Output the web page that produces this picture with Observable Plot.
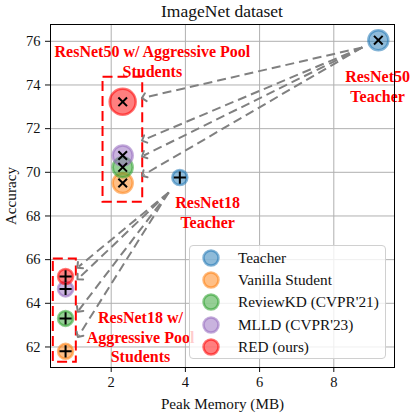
<!DOCTYPE html>
<html><head><meta charset="utf-8">
<script src="https://cdn.jsdelivr.net/npm/d3@7"></script>
<script src="https://cdn.jsdelivr.net/npm/@observablehq/plot@0.6"></script>
<style>
body{margin:0;background:#fff;}
#wrap{position:relative;width:412px;height:415px;font-family:"Liberation Serif","Times New Roman",serif;}
#title{position:absolute;left:50px;width:344px;top:0px;text-align:center;font-size:17.5px;line-height:22px;color:#111;}
#legend{position:absolute;left:189px;top:245px;width:195px;height:112px;border:1px solid #d0d0d0;border-radius:4px;background:rgba(255,255,255,0.8);box-sizing:content-box;}
.row{position:absolute;left:0;height:22px;display:flex;align-items:center;font-size:15.3px;color:#111;white-space:nowrap;}
.row svg{margin-left:12px;margin-right:18px;}
</style></head><body><div id="wrap"><div id="chart"></div><div id="title">ImageNet dataset</div><div id="legend"></div></div>
<script>
// ---- data ----
const methods = ["Teacher", "Vanilla Student", "ReviewKD (CVPR'21)", "MLLD (CVPR'23)", "RED (ours)"];
const methodColors = ["#1f77b4", "#ff7f0e", "#2ca02c", "#9467bd", "#ff0000"];
const teacherNames = ["ResNet50", "ResNet18"];
const teacherMemory = [9.2, 3.85];
const teacherAccuracy = [76.05, 69.76];
const studentMethods = ["Vanilla Student", "ReviewKD (CVPR'21)", "MLLD (CVPR'23)", "RED (ours)"];
const r50StudentMemory = [2.31, 2.31, 2.31, 2.31];
const r50StudentAccuracy = [69.51, 70.23, 70.77, 73.23];
const r18StudentMemory = [0.77, 0.77, 0.77, 0.77];
const r18StudentAccuracy = [61.8, 63.31, 64.66, 65.23];
const xTicks = [2, 4, 6, 8];
const yTicks = [62, 64, 66, 68, 70, 72, 74, 76];
// arrows (teacher -> students), ends at dashed boxes
const r50ArrowStart = [8.77, 75.72];
const r50ArrowEndX = [2.88, 2.88, 2.88, 2.88];
const r50ArrowEndY = [73.42, 71.49, 70.77, 69.89];
const r18ArrowStart = [3.55, 69.08];
const r18ArrowEndX = [1.13, 1.13, 1.13, 1.13];
const r18ArrowEndY = [65.69, 65.16, 63.69, 62.53];
// dashed group boxes
const boxX1 = [1.78, 0.44];
const boxX2 = [2.85, 1.06];
const boxY1 = [68.63, 61.3];
const boxY2 = [74.35, 66.03];
// annotations
const noteText = ["ResNet50 w/ Aggressive Pool\nStudents", "ResNet50\nTeacher", "ResNet18\nTeacher", "ResNet18 w/\nAggressive Pool\nStudents"];
const noteX = [3.11, 9.18, 4.6, 2.79];
const noteY = [75.11, 73.96, 68.19, 62.49];

// ---- derived tables ----
const colorOf = m => methodColors[methods.indexOf(m)];
const teachers = teacherNames.map((n, i) => ({name: n, x: teacherMemory[i], y: teacherAccuracy[i]}));
const r50 = studentMethods.map((m, i) => ({method: m, x: r50StudentMemory[i], y: r50StudentAccuracy[i]}));
const r18 = studentMethods.map((m, i) => ({method: m, x: r18StudentMemory[i], y: r18StudentAccuracy[i]}));
const arrows = [
  ...r50ArrowEndY.map((y, i) => ({x1: r50ArrowStart[0], y1: r50ArrowStart[1], x2: r50ArrowEndX[i], y2: y})),
  ...r18ArrowEndY.map((y, i) => ({x1: r18ArrowStart[0], y1: r18ArrowStart[1], x2: r18ArrowEndX[i], y2: y}))
];
const boxes = boxX1.map((x, i) => ({x1: x, x2: boxX2[i], y1: boxY1[i], y2: boxY2[i]}));
const notes = noteText.map((t, i) => ({t, x: noteX[i], y: noteY[i]}));

const dotStyle = (data, r) => Plot.dot(data, {x: "x", y: "y", r,
  fill: d => colorOf(d.method ?? "Teacher"), fillOpacity: 0.5,
  stroke: d => colorOf(d.method ?? "Teacher"), strokeOpacity: 0.55, strokeWidth: 2.5});

const chart = Plot.plot({
  width: 412, height: 415,
  marginLeft: 50, marginRight: 18, marginTop: 24, marginBottom: 48,
  style: {fontFamily: '"Liberation Serif","Times New Roman",serif', fontSize: "14.5px", color: "#111", background: "white"},
  x: {domain: [0.364, 9.636], ticks: xTicks, label: null},
  y: {domain: [61.06, 76.77], ticks: yTicks, label: null},
  color: {type: "identity"},
  marks: [
    Plot.gridX(xTicks, {stroke: "#b0b0b0", strokeOpacity: 1, strokeWidth: 1}),
    Plot.gridY(yTicks, {stroke: "#b0b0b0", strokeOpacity: 1, strokeWidth: 1}),
    Plot.axisX(xTicks, {tickSize: 5, tickPadding: 4, fontSize: 14.5, label: null}),
    Plot.axisY(yTicks, {tickSize: 5, tickPadding: 5, fontSize: 14.5, label: null}),
    Plot.axisX({ticks: [], tickSize: 0, label: "Peak Memory (MB)", labelAnchor: "center", labelArrow: "none", labelOffset: 41, fontSize: 15.2}),
    Plot.axisY({ticks: [], tickSize: 0, label: "Accuracy", labelAnchor: "center", labelArrow: "none", labelOffset: 45, fontSize: 15.2}),
    Plot.rect(boxes, {x1: "x1", x2: "x2", y1: "y1", y2: "y2", fill: "none", stroke: "#ff0000", strokeWidth: 2, strokeDasharray: "10,5"}),
    Plot.link(arrows, {x1: "x1", y1: "y1", x2: "x2", y2: "y2", stroke: "#808080", strokeWidth: 2, strokeDasharray: "9,5", markerEnd: "arrow"}),
    dotStyle(teachers.filter(d => d.name === "ResNet50"), 10),
    dotStyle(teachers.filter(d => d.name === "ResNet18"), 7.5),
    dotStyle(r50.filter(d => d.method !== "RED (ours)"), 10),
    dotStyle(r50.filter(d => d.method === "RED (ours)"), 13),
    dotStyle(r18, 7.5),
    Plot.dot([...teachers.filter(d => d.name === "ResNet50"), ...r50], {x: "x", y: "y", symbol: "times", r: 4, stroke: "black", strokeWidth: 2}),
    Plot.dot([...teachers.filter(d => d.name === "ResNet18"), ...r18], {x: "x", y: "y", symbol: "plus", r: 4, stroke: "black", strokeWidth: 2}),
    Plot.text(notes, {x: "x", y: "y", text: "t", fill: "#ff0000", fontWeight: "bold", fontSize: 16, lineHeight: 1.22, textAnchor: "middle"}),
    Plot.frame({stroke: "black", strokeWidth: 1})
  ]
});
document.getElementById("chart").appendChild(chart);

// legend
const lg = document.getElementById("legend");
methods.forEach((m, i) => {
  const row = document.createElement("div");
  row.className = "row";
  row.style.top = (1 + i * 22.2) + "px";
  const c = methodColors[i];
  row.innerHTML = `<svg width="18" height="18"><circle cx="9" cy="9" r="7.5" fill="${c}" fill-opacity="0.5" stroke="${c}" stroke-opacity="0.55" stroke-width="2.5"/></svg><span>${m}</span>`;
  lg.appendChild(row);
});
</script></body></html>
